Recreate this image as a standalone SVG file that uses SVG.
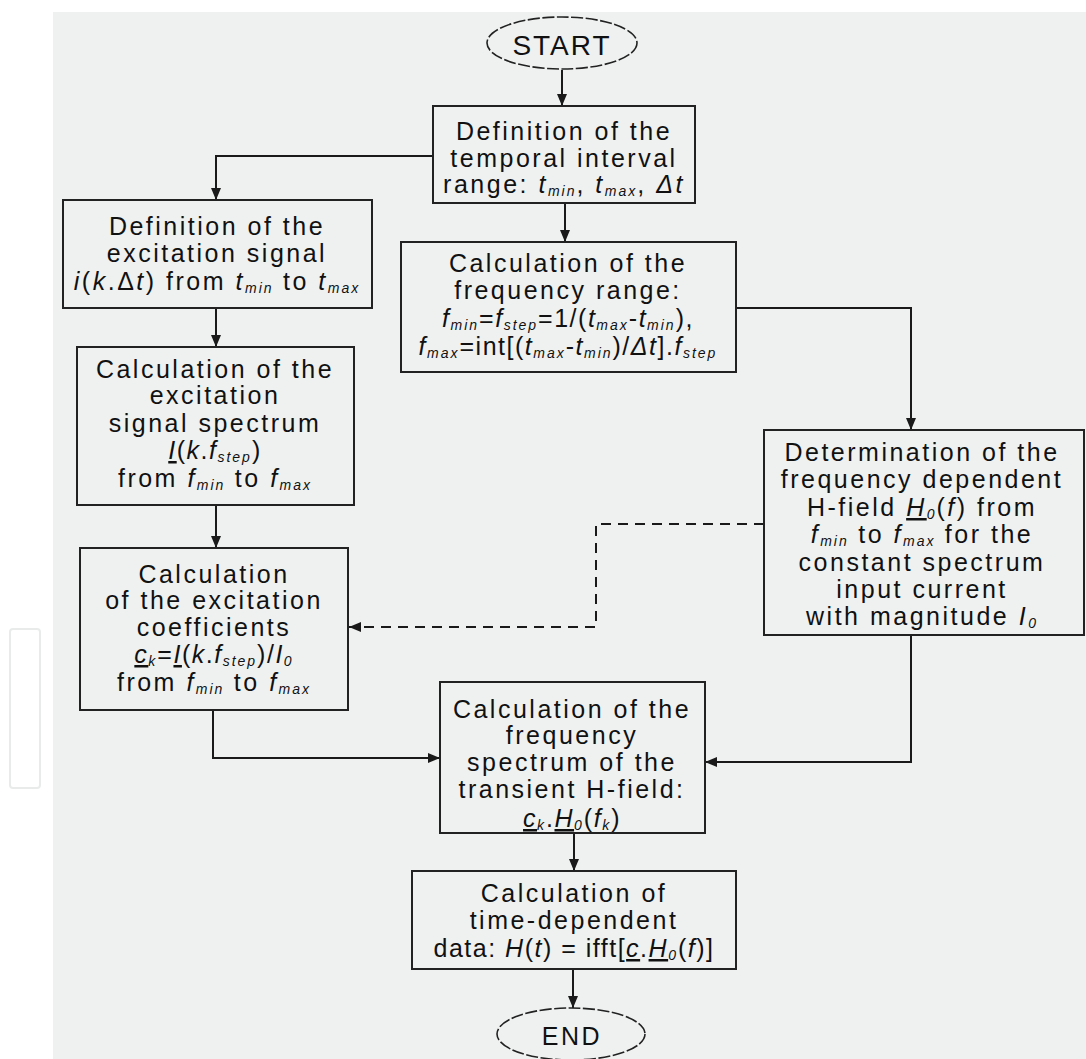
<svg xmlns="http://www.w3.org/2000/svg" width="1086" height="1059" viewBox="0 0 1086 1059">
<style>
.bg{fill:#eff1f1}
.box{fill:none;stroke:#222;stroke-width:2}
.ell{fill:none;stroke:#222;stroke-width:1.6;stroke-dasharray:12 2.5}
.c{fill:none;stroke:#1a1a1a;stroke-width:2}
.d{stroke-dasharray:10 7}
text{font-family:"Liberation Sans",Arial,Helvetica,sans-serif;font-size:25px;letter-spacing:2.5px;fill:#111;text-anchor:middle}
.m{letter-spacing:1.5px}
.i{font-style:italic}
.s{font-size:14px;font-style:italic;letter-spacing:2px}
.u{text-decoration:underline}
</style>
<defs>
<marker id="a" viewBox="0 0 12 10" refX="12" refY="5" markerWidth="12" markerHeight="10" markerUnits="userSpaceOnUse" orient="auto">
<path d="M0,0 L12,5 L0,10 z" fill="#1a1a1a"/>
</marker>
</defs>
<rect class="bg" x="53" y="12" width="1033" height="1047"/>
<rect x="10" y="629" width="30" height="159" rx="3" fill="none" stroke="#e9ebeb" stroke-width="2"/>

<g id="connectors">
<path class="c" d="M562,70 V106" marker-end="url(#a)"/>
<path class="c" d="M433,156 H216 V200" marker-end="url(#a)"/>
<path class="c" d="M565,203 V242" marker-end="url(#a)"/>
<path class="c" d="M736,308 H911 V430" marker-end="url(#a)"/>
<path class="c" d="M216,308 V347" marker-end="url(#a)"/>
<path class="c" d="M216,505 V548" marker-end="url(#a)"/>
<path class="c d" d="M764,524 H596 V627 H349" marker-end="url(#a)"/>
<path class="c" d="M213,710 V758 H440" marker-end="url(#a)"/>
<path class="c" d="M911,635 V762 H705" marker-end="url(#a)"/>
<path class="c" d="M574,833 V871" marker-end="url(#a)"/>
<path class="c" d="M573,969 V1008" marker-end="url(#a)"/>
</g>

<g id="start">
<ellipse class="ell" cx="562" cy="43" rx="75" ry="26"/>
<text x="562" y="55" style="font-size:28px;letter-spacing:2px">START</text>
</g>

<g id="def-temporal">
<rect class="box" x="433" y="106" width="262" height="97"/>
<text x="564" y="140">Definition of the</text>
<text x="564" y="167">temporal interval</text>
<text x="564" y="193">range: <tspan class="i">t</tspan><tspan class="s" dy="3">min</tspan><tspan dy="-3">, </tspan><tspan class="i">t</tspan><tspan class="s" dy="3">max</tspan><tspan dy="-3">, </tspan><tspan class="i">Δt</tspan></text>
</g>

<g id="def-excitation">
<rect class="box" x="63" y="200" width="309" height="108"/>
<text x="217" y="235">Definition of the</text>
<text x="217" y="262">excitation signal</text>
<text x="217" y="290"><tspan class="i">i</tspan>(<tspan class="i">k</tspan>.Δ<tspan class="i">t</tspan>) from <tspan class="i">t</tspan><tspan class="s" dy="3">min</tspan><tspan dy="-3"> to </tspan><tspan class="i">t</tspan><tspan class="s" dy="3">max</tspan></text>
</g>

<g id="calc-freq-range">
<rect class="box" x="401" y="242" width="335" height="130"/>
<text x="568" y="272">Calculation of the</text>
<text x="568" y="299">frequency range:</text>
<text class="m" x="568" y="327"><tspan class="i">f</tspan><tspan class="s" dy="3">min</tspan><tspan dy="-3">=</tspan><tspan class="i">f</tspan><tspan class="s" dy="3">step</tspan><tspan dy="-3">=1/(</tspan><tspan class="i">t</tspan><tspan class="s" dy="3">max</tspan><tspan dy="-3">-</tspan><tspan class="i">t</tspan><tspan class="s" dy="3">min</tspan><tspan dy="-3">),</tspan></text>
<text class="m" x="568" y="355"><tspan class="i">f</tspan><tspan class="s" dy="3">max</tspan><tspan dy="-3">=int[(</tspan><tspan class="i">t</tspan><tspan class="s" dy="3">max</tspan><tspan dy="-3">-</tspan><tspan class="i">t</tspan><tspan class="s" dy="3">min</tspan><tspan dy="-3">)/</tspan><tspan class="i">Δt</tspan>].<tspan class="i">f</tspan><tspan class="s" dy="3">step</tspan></text>
</g>

<g id="calc-spectrum">
<rect class="box" x="77" y="347" width="277" height="158"/>
<text x="215" y="378">Calculation of the</text>
<text x="215" y="404">excitation</text>
<text x="215" y="432">signal spectrum</text>
<text class="m" x="215" y="459"><tspan class="i u">I</tspan>(<tspan class="i">k</tspan>.<tspan class="i">f</tspan><tspan class="s" dy="3">step</tspan><tspan dy="-3">)</tspan></text>
<text x="215" y="487">from <tspan class="i">f</tspan><tspan class="s" dy="3">min</tspan><tspan dy="-3"> to </tspan><tspan class="i">f</tspan><tspan class="s" dy="3">max</tspan></text>
</g>

<g id="calc-coefficients">
<rect class="box" x="80" y="548" width="268" height="162"/>
<text x="214" y="583">Calculation</text>
<text x="214" y="609">of the excitation</text>
<text x="214" y="636">coefficients</text>
<text class="m" x="214" y="663"><tspan class="i u">c</tspan><tspan class="s" dy="3">k</tspan><tspan dy="-3">=</tspan><tspan class="i u">I</tspan>(<tspan class="i">k</tspan>.<tspan class="i">f</tspan><tspan class="s" dy="3">step</tspan><tspan dy="-3">)/</tspan><tspan class="i">I</tspan><tspan class="s" dy="3">0</tspan></text>
<text x="214" y="691">from <tspan class="i">f</tspan><tspan class="s" dy="3">min</tspan><tspan dy="-3"> to </tspan><tspan class="i">f</tspan><tspan class="s" dy="3">max</tspan></text>
</g>

<g id="determination">
<rect class="box" x="764" y="430" width="320" height="205"/>
<text x="922" y="461">Determination of the</text>
<text x="922" y="488">frequency dependent</text>
<text x="922" y="516">H-field <tspan class="i u">H</tspan><tspan class="s" dy="3">0</tspan><tspan dy="-3">(</tspan><tspan class="i">f</tspan>) from</text>
<text x="922" y="543"><tspan class="i">f</tspan><tspan class="s" dy="3">min</tspan><tspan dy="-3"> to </tspan><tspan class="i">f</tspan><tspan class="s" dy="3">max</tspan><tspan dy="-3"> for the</tspan></text>
<text x="922" y="571">constant spectrum</text>
<text x="922" y="598">input current</text>
<text x="922" y="625">with magnitude <tspan class="i">I</tspan><tspan class="s" dy="3">0</tspan></text>
</g>

<g id="calc-transient">
<rect class="box" x="440" y="682" width="265" height="151"/>
<text x="572" y="718">Calculation of the</text>
<text x="572" y="744">frequency</text>
<text x="572" y="771">spectrum of the</text>
<text x="572" y="798">transient H-field:</text>
<text class="m" x="572" y="827"><tspan class="i u">c</tspan><tspan class="s" dy="3">k</tspan><tspan dy="-3">.</tspan><tspan class="i u">H</tspan><tspan class="s" dy="3">0</tspan><tspan dy="-3">(</tspan><tspan class="i">f</tspan><tspan class="s" dy="3">k</tspan><tspan dy="-3">)</tspan></text>
</g>

<g id="calc-time">
<rect class="box" x="412" y="871" width="324" height="98"/>
<text x="574" y="902">Calculation of</text>
<text x="574" y="929">time-dependent</text>
<text class="m" x="574" y="957">data: <tspan class="i">H</tspan>(<tspan class="i">t</tspan>) = ifft[<tspan class="i u">c</tspan>.<tspan class="i u">H</tspan><tspan class="s" dy="3">0</tspan><tspan dy="-3">(</tspan><tspan class="i">f</tspan>)]</text>
</g>

<g id="end">
<ellipse class="ell" cx="571" cy="1034" rx="74" ry="26"/>
<text x="572" y="1045">END</text>
</g>
</svg>
